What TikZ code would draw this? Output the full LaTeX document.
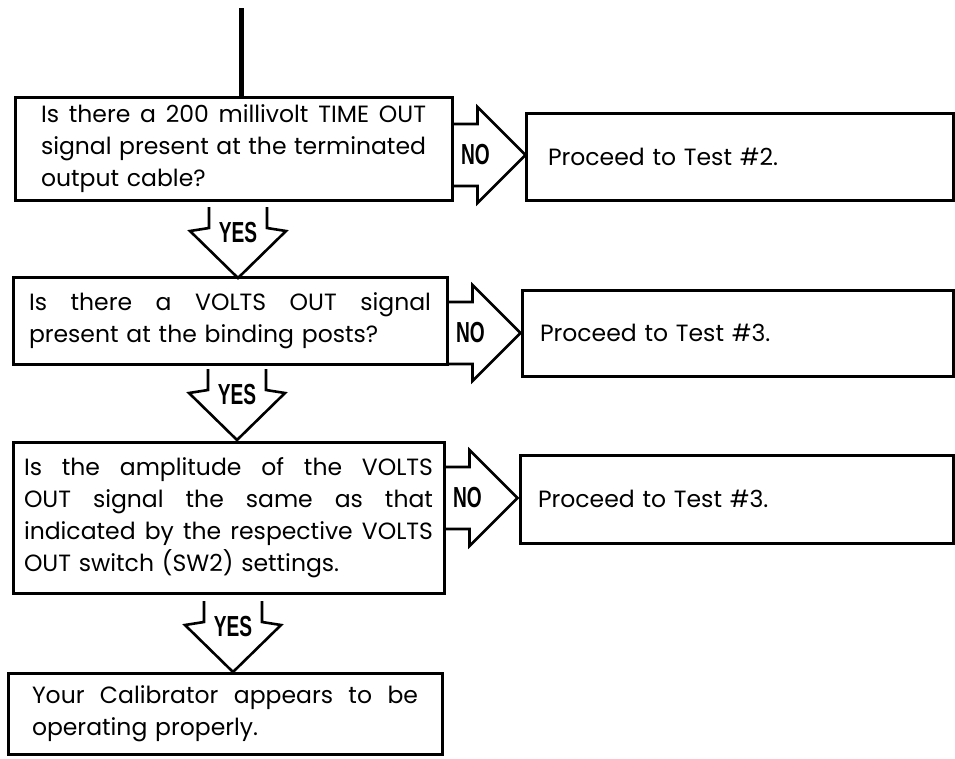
\documentclass[tikz,border=0pt]{standalone}
\usepackage{fontspec}
\setmainfont{Poppins}
\newfontfamily\labfont{Liberation Sans}
\usepackage{graphicx}
\usetikzlibrary{calc}
\newcommand{\jl}[1]{{\spaceskip=0pt\xspaceskip=0pt\makebox[\hsize][s]{#1}}}
\newcommand{\noarrow}[2]{%
  \draw[arr] (#1) +(0,-31) -- +(24,-31) -- +(24,-48) -- +(72,0) -- +(24,48) -- +(24,31) -- +(0,31);
  \node[lab] (#2) at ($(#1)+(22,0)$) {\scalebox{0.66}[1]{NO}};}
\newcommand{\yesarrow}[2]{%
  \draw[arr] (#1) +(-29,0) -- +(-29,21) -- +(-48,24) -- +(0,71) -- +(48,24) -- +(29,21) -- +(29,0);
  \node[lab] (#2) at ($(#1)+(0,26)$) {\scalebox{0.66}[1]{YES}};}
\begin{document}
\begin{tikzpicture}[x=1pt,y=-1pt,
  box/.style={draw, line width=3pt, align=left, inner ysep=0pt, font=\fontsize{23.5}{32}\selectfont},
  arr/.style={line width=2.6pt, line join=miter},
  lab/.style={font=\fontsize{29}{29}\selectfont\labfont\bfseries, inner sep=0pt}]
\useasboundingbox (0,0) rectangle (955,758);

% question boxes
\node[box, minimum width=437pt, minimum height=103pt, inner xsep=26pt, text width=385pt] (b1) at (233.5,148.5)
  {\jl{Is there a 200 millivolt TIME OUT}\\\jl{signal present at the terminated}\\output cable?};
\node[box, minimum width=434pt, minimum height=87pt, inner xsep=16pt, text width=402pt] (b2) at (230,320.5)
  {\jl{Is there a VOLTS OUT signal}\\present at the binding posts?};
\node[box, minimum width=431pt, minimum height=151pt, inner xsep=11pt, text width=409pt] (b3) at (228.5,517.5)
  {\jl{Is the amplitude of the VOLTS}\\\jl{OUT signal the same as that}\\\jl{indicated by the respective VOLTS}\\OUT switch (SW2) settings.};
\node[box, minimum width=434pt, minimum height=81pt, inner xsep=24pt, text width=386pt] (b4) at (225,713.5)
  {\jl{Your Calibrator appears to be}\\operating properly.};

% result boxes
\node[box, minimum width=427pt, minimum height=87pt, inner xsep=22pt, text width=383pt] (p1) at (739.5,156.5) {Proceed to Test \#2.};
\node[box, minimum width=431pt, minimum height=86pt, inner xsep=18pt, text width=395pt] (p2) at (737.5,333) {Proceed to Test \#3.};
\node[box, minimum width=433pt, minimum height=88pt, inner xsep=18pt, text width=397pt] (p3) at (736.5,499) {Proceed to Test \#3.};

% entry line
\coordinate (top) at (241,8);
\draw[line width=5pt] (top) -- (top |- b1.north);

% NO arrows
\coordinate (n1) at (b1.east |- 0,155);
\coordinate (n2) at (b2.east |- 0,333);
\coordinate (n3) at (b3.east |- 0,498);
\noarrow{n1}{no1}
\noarrow{n2}{no2}
\noarrow{n3}{no3}

% YES arrows
\coordinate (y1) at (238,207);
\coordinate (y2) at (237,369);
\coordinate (y3) at (233,601);
\yesarrow{y1}{yes1}
\yesarrow{y2}{yes2}
\yesarrow{y3}{yes3}
\end{tikzpicture}
\end{document}
